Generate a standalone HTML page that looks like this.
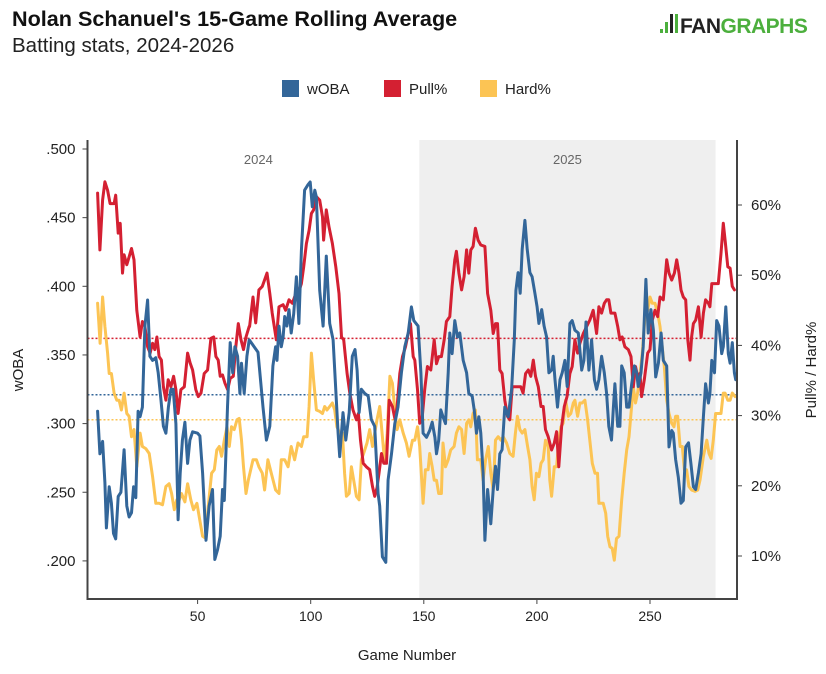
<!DOCTYPE html>
<html><head><meta charset="utf-8"><style>
body{margin:0;background:#fff;width:826px;height:669px;overflow:hidden;font-family:"Liberation Sans",sans-serif;}
</style></head><body>
<svg id="chart" width="826" height="669" viewBox="0 0 826 669" xmlns="http://www.w3.org/2000/svg" font-family="Liberation Sans, sans-serif">
<text x="12" y="26" font-size="21.6" font-weight="bold" fill="#111">Nolan Schanuel's 15-Game Rolling Average</text>
<text x="12" y="52" font-size="20.5" fill="#222">Batting stats, 2024-2026</text>
<g>
<rect x="660" y="29" width="3" height="4" fill="#4caf3d"/>
<rect x="665" y="22" width="3" height="11" fill="#4caf3d"/>
<rect x="670" y="14" width="3" height="19" fill="#222"/>
<rect x="675" y="14" width="3" height="19" fill="#4caf3d"/>
<text x="680" y="33" font-size="21" font-weight="bold" fill="#222" letter-spacing="-0.5">FAN<tspan fill="#4caf3d">GRAPHS</tspan></text>
</g>
<g font-size="15" fill="#222">
<g><rect x="282" y="80" width="17" height="17" fill="#336699"/><text x="307" y="94">wOBA</text></g>
<g><rect x="384" y="80" width="17" height="17" fill="#d42032"/><text x="409" y="94">Pull%</text></g>
<g><rect x="480" y="80" width="17" height="17" fill="#fcc454"/><text x="505" y="94">Hard%</text></g>
</g>
<g id="plot"></g>
<text x="407" y="660" font-size="15" text-anchor="middle" fill="#222">Game Number</text>
<text transform="translate(23,370) rotate(-90)" font-size="15" text-anchor="middle" fill="#222">wOBA</text>
<text transform="translate(816,370) rotate(-90)" font-size="15" text-anchor="middle" fill="#222">Pull% / Hard%</text>
</svg>
<script>
const xTicks=[50,100,150,200,250];
const wobaTicks=[0.200,0.250,0.300,0.350,0.400,0.450,0.500];
const wobaTickLabels=[".200",".250",".300",".350",".400",".450",".500"];
const pctTicks=[10,20,30,40,50,60];
const pctTickLabels=["10%","20%","30%","40%","50%","60%"];
const seasons=["2024","2025"];
const seasonStart=[0,148];
const seasonEnd=[148,279];
const avgWoba=0.321, avgPull=41.0, avgHard=29.4;

const wobaGames=[5.8,6.8,8.0,9.0,9.7,10.9,11.9,12.8,13.8,14.9,16.1,17.5,18.7,19.7,20.8,21.7,22.7,23.7,24.6,25.6,26.7,27.9,28.9,30.1,31.5,32.6,33.8,34.9,36.0,37.1,38.2,39.2,40.4,41.4,42.3,43.3,44.4,45.6,46.6,47.8,50.0,51.0,52.2,53.7,55.1,56.6,57.6,58.8,60.0,61.0,61.8,63.2,64.4,65.5,66.5,67.7,68.7,69.4,70.6,71.8,72.8,
76.7,78.9,80.4,81.9,83.3,84.5,85.1,86.0,87.0,87.8,88.5,89.5,90.4,91.4,92.5,93.7,94.8,95.9,97.3,98.8,99.8,100.7,101.8,102.5,104.0,105.5,106.9,108.4,109.9,112.1,112.8,114.3,115.5,117.0,118.4,119.6,120.5,121.4,122.4,123.9,125.4,126.8,128.3,129.8,130.5,131.7,133.2,134.2,135.7,137.2,138.6,140.1,141.6,143.1,144.5,145.6,
147.5,148.7,149.7,151.2,152.6,153.7,154.9,155.6,156.6,157.5,158.5,159.6,160.8,161.5,162.5,163.7,164.9,165.9,167.4,168.9,169.9,171.4,172.3,173.3,174.3,175.2,176.2,177.0,178.2,179.6,180.7,181.7,182.6,183.6,184.6,185.8,187.3,188.8,190.0,190.7,191.7,192.6,193.5,194.7,195.7,196.9,197.9,199.1,200.1,200.9,202.1,203.2,204.3,205.3,206.5,207.2,208.0,209.1,210.2,211.2,212.4,213.4,214.6,215.6,
216.8,218.3,219.8,220.8,221.7,223.0,224.2,225.4,226.4,227.4,228.6,229.8,230.8,231.8,233.0,233.8,234.5,235.7,236.7,237.5,238.6,239.7,240.7,241.9,243.1,244.1,244.8,246.0,247.0,248.2,249.2,250.4,251.5,252.5,253.7,254.9,255.9,257.4,258.4,259.6,260.3,261.3,262.5,263.7,264.7,265.8,267.0,268.1,269.2,270.2,271.4,272.6,273.6,274.6,275.8,276.5,277.3,278.5,279.5,280.5,281.7,282.4,283.5,284.6,285.4,286.4,287.3,287.9];
const wobaValues=[.309,.278,.287,.257,.224,.254,.242,.220,.216,.247,.250,.281,.240,.232,.235,.254,.246,.309,.305,.312,.371,.390,.349,.346,.348,.337,.317,.298,.293,.312,.325,.325,.300,.230,.264,.288,.301,.271,.288,.294,.293,.291,.264,.215,.240,.252,.201,.208,.218,.252,.244,.312,.359,.337,.356,.349,.322,.344,.322,.349,.361,
.352,.312,.288,.298,.342,.356,.346,.371,.356,.363,.378,.371,.383,.366,.380,.407,.373,.426,.470,.474,.476,.458,.470,.465,.397,.371,.422,.373,.361,.293,.276,.308,.288,.308,.349,.354,.339,.308,.325,.322,.320,.303,.298,.249,.240,.203,.199,.259,.278,.300,.312,.337,.356,.366,.385,.375,
.371,.337,.293,.290,.295,.301,.290,.278,.288,.310,.305,.300,.337,.366,.351,.375,.363,.366,.346,.337,.322,.320,.310,.293,.305,.293,.264,.215,.252,.227,.252,.269,.252,.278,.281,.312,.305,.325,.361,.397,.410,.395,.427,.448,.427,.410,.407,.395,.385,.373,.383,.371,.363,.337,.339,.349,.332,.312,.332,.337,.346,.327,.373,.375,
.368,.366,.339,.346,.374,.339,.361,.332,.325,.332,.349,.337,.322,.298,.288,.312,.329,.298,.298,.342,.337,.312,.312,.329,.342,.337,.327,.337,.356,.405,.366,.383,.368,.334,.344,.366,.346,.342,.283,.295,.293,.274,.261,.242,.244,.283,.286,.271,.254,.252,.264,.278,.305,.329,.315,.322,.346,.337,.375,.371,.351,.356,.385,.351,.344,.359,.337,.332];

const pullGames=[5.8,6.8,8.0,9.0,10.2,11.3,13.1,13.8,14.9,15.8,16.8,17.5,18.7,19.7,20.8,21.9,23.1,24.6,25.6,26.7,27.9,29.0,30.1,31.1,32.0,33.0,34.0,34.9,36.0,37.0,38.2,39.4,40.4,41.4,42.6,44.1,45.6,46.7,47.8,49.2,50.3,51.5,52.9,54.4,55.9,57.1,58.1,59.1,60.0,61.0,62.1,63.3,64.4,65.8,66.9,68.0,69.2,70.3,71.4,72.8,
73.0,74.5,75.7,77.1,78.6,80.7,81.9,83.0,84.8,86.0,87.8,88.9,90.4,91.9,93.4,94.8,95.9,96.9,98.1,99.3,100.3,101.3,102.5,104.0,105.2,105.7,106.9,108.1,109.6,111.1,112.5,113.6,114.6,116.1,117.3,118.7,120.2,121.1,122.0,123.2,124.6,126.1,127.3,128.3,129.3,130.2,131.3,132.3,133.5,134.7,136.1,137.3,138.2,139.4,140.6,141.9,143.1,144.1,145.3,
146.0,147.2,148.2,149.2,150.4,151.6,153.1,154.6,155.6,156.6,157.8,159.0,160.0,161.5,162.5,163.7,164.4,165.5,166.7,167.8,168.9,169.9,170.8,171.8,172.8,174.0,175.2,177.0,178.2,179.6,180.7,181.7,182.6,183.6,184.6,185.8,187.0,188.0,189.1,191.0,192.9,193.9,195.0,196.2,197.3,198.4,199.4,200.6,201.8,202.8,203.8,205.0,206.5,207.7,208.7,209.7,210.9,212.1,213.3,214.6,215.6,
216.8,218.0,219.0,220.5,222.0,223.4,224.9,226.4,227.4,228.6,229.8,230.8,231.8,232.7,234.5,235.7,236.7,237.7,238.9,240.4,241.6,242.6,243.6,244.5,245.6,246.3,247.5,249.0,250.0,251.0,252.2,253.4,254.4,255.9,257.4,258.4,259.6,260.8,261.8,262.8,263.7,264.7,265.8,266.7,267.7,268.4,269.2,270.2,271.4,272.6,273.6,274.6,275.8,276.5,277.3,278.7,280.2,281.4,282.4,283.2,284.4,285.4,286.4,287.3];
const pullValues=[61.7,53.6,60.7,63.3,62.1,60.2,60.2,61.4,56.0,57.4,50.3,52.9,51.5,52.6,53.8,52.2,45.0,41.2,43.4,42.7,39.8,38.9,40.3,39.4,41.2,38.4,37.9,34.1,32.2,35.1,34.1,35.6,33.7,30.3,33.7,34.1,38.9,37.5,36.5,33.7,32.7,33.2,36.0,36.5,41.0,41.2,38.4,37.9,35.6,35.8,34.6,33.7,35.3,35.6,39.8,43.1,40.8,39.4,41.2,42.7,
42.7,46.9,43.2,47.9,48.4,50.3,47.4,44.6,40.8,45.5,45.8,45.0,46.5,46.0,47.4,47.7,48.8,51.2,54.5,56.4,58.8,59.3,61.2,60.7,58.3,55.0,59.3,56.9,54.5,51.2,47.4,41.2,40.8,36.0,33.2,30.8,29.4,30.3,26.5,23.2,22.7,22.3,19.9,18.5,19.7,21.8,24.6,23.2,23.2,32.2,31.3,29.4,31.3,36.0,38.4,39.8,41.7,43.1,38.4,
37.9,33.7,28.9,29.4,33.7,37.0,36.5,40.8,37.4,38.4,38.4,40.8,43.4,44.1,48.4,52.2,53.4,50.3,47.9,49.8,53.6,50.3,53.6,54.1,56.7,55.0,54.3,54.1,47.4,45.0,41.7,43.1,43.1,36.5,36.0,32.2,29.9,29.4,34.1,34.1,34.1,33.2,36.0,36.5,35.6,37.9,35.6,34.1,31.3,31.3,28.0,27.0,25.1,26.1,27.7,22.7,28.4,31.3,32.7,36.0,37.0,
40.8,38.9,40.3,41.7,42.7,43.6,45.0,41.7,45.5,44.6,46.0,46.5,46.5,44.6,44.6,42.7,40.8,41.2,39.8,39.4,38.4,34.1,37.0,35.6,36.0,32.7,35.1,38.9,39.4,43.6,45.0,44.1,46.9,46.5,52.2,50.3,49.3,50.3,52.2,50.3,47.9,46.9,46.5,40.8,37.9,41.2,43.1,43.6,45.5,41.2,44.6,46.5,46.0,45.5,48.8,48.8,48.8,53.1,57.4,55.0,51.2,51.0,48.4,47.9];

const hardGames=[5.8,6.9,8.0,9.0,10.2,10.9,11.9,13.1,14.3,15.3,16.3,17.5,18.7,19.7,20.8,21.9,23.1,24.6,25.6,27.1,28.6,30.1,31.5,33.0,34.5,36.0,37.4,38.5,39.7,40.8,41.9,42.9,44.4,45.6,47.0,48.2,49.7,51.2,52.2,53.7,54.7,56.2,57.4,58.5,59.6,60.6,61.8,63.0,64.0,65.0,66.2,67.4,68.4,69.4,70.3,71.4,72.4,
74.5,76.0,77.1,78.6,79.6,81.1,82.6,84.5,86.0,87.0,88.5,90.0,91.4,92.9,94.4,95.9,96.9,98.4,99.3,100.3,101.3,102.5,104.0,105.2,106.2,107.2,108.4,109.6,110.6,111.6,112.8,114.0,115.0,115.8,117.0,118.0,119.0,120.2,121.4,122.4,123.4,124.9,126.1,127.3,128.3,129.3,130.5,131.7,132.7,133.8,135.0,136.1,137.2,138.2,139.4,140.9,142.3,143.5,145.0,
146.0,147.2,148.2,149.7,150.7,151.9,152.6,153.7,154.6,155.6,156.6,157.8,158.5,159.6,160.8,161.9,163.4,164.4,165.5,166.7,167.8,168.9,169.9,170.8,171.8,172.8,173.7,175.2,176.2,177.3,178.5,179.6,180.7,181.7,182.9,184.1,185.1,186.6,188.0,189.5,190.5,191.4,192.5,193.5,194.7,195.9,196.9,197.9,198.8,199.8,200.9,201.8,202.8,203.8,205.0,205.7,206.5,207.7,208.7,209.7,210.6,211.6,212.7,213.9,215.0,216.1,
216.8,218.0,219.0,220.0,221.2,222.4,223.4,224.5,225.7,226.8,227.4,229.3,230.4,231.3,232.3,233.3,234.2,235.2,236.3,237.5,238.6,239.7,240.7,241.6,242.6,243.6,244.5,245.6,246.6,247.8,249.0,250.0,251.0,252.2,253.4,254.4,255.4,256.3,257.4,258.4,259.6,260.6,261.3,262.2,263.3,264.3,265.2,266.2,267.2,268.4,269.9,271.1,272.1,273.6,275.1,276.1,277.0,278.0,279.0,280.2,281.4,282.4,283.2,284.4,285.4,286.4,287.6];
const hardValues=[46.0,40.3,46.9,42.7,38.9,36.0,36.0,33.2,32.2,32.2,30.8,33.2,30.3,29.9,27.0,28.0,22.7,27.5,25.6,25.3,24.6,21.3,17.5,17.5,17.3,19.9,20.3,18.9,16.6,18.0,18.0,18.9,17.7,20.3,18.0,16.6,17.5,14.7,12.8,12.5,17.0,21.8,22.3,25.1,25.6,24.2,26.5,28.4,25.6,28.4,28.0,29.4,29.6,26.5,22.7,18.9,20.8,
23.7,23.7,22.7,21.8,19.4,23.7,21.8,19.4,18.9,23.7,23.7,22.7,25.6,23.7,26.1,25.6,27.0,27.0,31.3,38.9,35.1,30.8,30.6,30.3,31.3,30.8,31.3,31.8,30.8,28.4,27.5,27.5,21.8,18.5,18.9,22.7,20.8,18.5,18.0,23.7,24.6,26.1,28.0,25.6,27.5,29.4,31.3,27.0,23.2,27.5,35.6,34.6,30.8,28.0,29.4,27.5,26.1,24.2,26.5,
26.5,28.4,25.6,17.5,22.3,22.3,24.6,22.7,20.8,20.8,18.9,18.9,26.1,22.7,23.7,25.1,25.6,27.5,28.4,28.0,24.6,28.9,29.4,28.4,30.3,30.8,23.7,23.7,20.8,23.7,25.6,21.8,19.4,26.5,27.0,26.5,27.0,26.1,24.6,24.2,27.5,29.9,28.0,27.5,28.0,25.6,23.7,19.9,18.0,21.8,21.3,23.2,23.7,26.5,25.6,20.8,18.5,22.7,22.7,26.5,28.4,28.9,32.2,29.9,30.3,31.8,
32.2,29.9,31.8,31.8,32.2,29.4,26.5,23.2,21.8,21.8,17.5,17.5,16.1,12.8,11.3,11.1,9.4,12.5,12.8,18.0,21.8,25.1,27.0,30.3,34.1,31.8,33.2,36.0,38.9,44.1,45.0,46.9,46.0,46.0,44.6,42.7,39.8,37.0,32.2,30.3,28.9,28.4,29.9,29.9,25.6,25.6,22.3,22.3,19.9,19.4,19.2,19.4,20.8,24.2,26.5,24.6,23.9,26.5,30.3,30.3,30.3,33.2,33.2,32.2,32.2,33.2,32.7];

const NS='http://www.w3.org/2000/svg';
const L=87.5,R=737,T=140,B=599;
function xs(g){return 84.5+2.262*g;}
function yw(v){return 149+(0.5-v)*1373;}
function yp(v){return 205+(60-v)*7.02;}
const plot=document.getElementById('plot');
function mk(tag,attrs,parent){const e=document.createElementNS(NS,tag);for(const k in attrs)e.setAttribute(k,attrs[k]);(parent||plot).appendChild(e);return e;}

seasons.forEach((s,i)=>{
  if(i===1){
    const r=mk('rect',{x:xs(seasonStart[i]),y:T,width:xs(seasonEnd[i])-xs(seasonStart[i]),height:B-T,fill:'#efefef'});
    
    
  }
  const cx=i===0?(L+xs(seasonStart[1]))/2+5:(xs(seasonStart[i])+xs(seasonEnd[i]))/2;
  const t=mk('text',{x:cx,y:164,'font-size':13,'text-anchor':'middle',fill:'#666'});
  t.textContent=s;
  
  
});

function refLine(y,color,name){
  const l=mk('line',{x1:L,x2:R,y1:y,y2:y,stroke:color,'stroke-width':1.5,'stroke-dasharray':'2,2'});
  
  
}
refLine(yp(avgPull),'#d42032','pull-average-line');
refLine(yw(avgWoba),'#336699','woba-average-line');
refLine(yp(avgHard),'#fcc454','hard-average-line');

function series(gs,vs,yf,color,name){
  let d='';gs.forEach((g,i)=>{d+=(i?'L':'M')+xs(g).toFixed(1)+','+yf(vs[i]).toFixed(1);});
  const p=mk('path',{d:d,fill:'none',stroke:color,'stroke-width':3,'stroke-linejoin':'round','stroke-linecap':'round'});
  
  
}
series(hardGames,hardValues,yp,'#fcc454','hard-pct-line');
series(pullGames,pullValues,yp,'#d42032','pull-pct-line');
series(wobaGames,wobaValues,yw,'#336699','woba-line');

const ax=mk('path',{d:`M${L},${T}V${B}H${R}V${T}`,fill:'none',stroke:'#444','stroke-width':2});



xTicks.forEach(v=>{
  mk('line',{x1:xs(v),x2:xs(v),y1:B,y2:B+5,stroke:'#444','stroke-width':1});
  const t=mk('text',{x:xs(v),y:B+22,'font-size':14,'text-anchor':'middle',fill:'#222'});
  t.textContent=v;
  
  
});
wobaTicks.forEach((v,i)=>{
  mk('line',{x1:L-5,x2:L,y1:yw(v),y2:yw(v),stroke:'#444','stroke-width':1});
  const t=mk('text',{x:L-12,y:yw(v)+5,'font-size':15,'text-anchor':'end',fill:'#222'});
  t.textContent=wobaTickLabels[i];
  
  
});
pctTicks.forEach((v,i)=>{
  mk('line',{x1:R,x2:R+5,y1:yp(v),y2:yp(v),stroke:'#444','stroke-width':1});
  const t=mk('text',{x:R+14,y:yp(v)+5,'font-size':15,'text-anchor':'start',fill:'#222'});
  t.textContent=pctTickLabels[i];
  
  
});
</script>
</body></html>
